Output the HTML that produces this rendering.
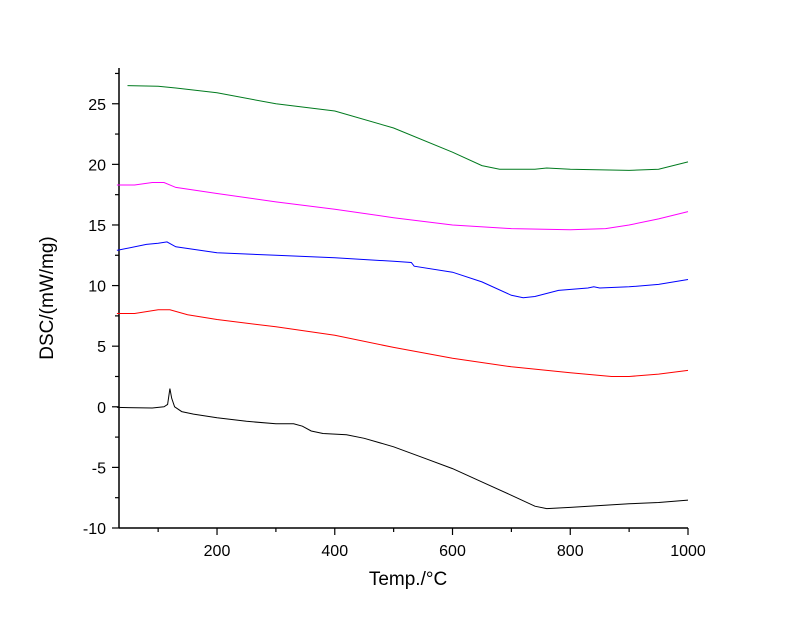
<!DOCTYPE html>
<html><head><meta charset="utf-8"><style>
body{margin:0;background:#fff}
svg{display:block;font-family:"Liberation Sans",Arial,sans-serif}
</style></head><body>
<svg id="chart" width="800" height="617">
<g id="axes"></g>
<g id="series"></g>
<text x="408" y="585" font-size="19" text-anchor="middle">Temp./°C</text>
<text x="0" y="0" font-size="19" text-anchor="middle" transform="translate(53,298) rotate(-90)">DSC/(mW/mg)</text>
</svg>
<script>
const xTicks=[200,400,600,800,1000];
const yTicks=[-10,-5,0,5,10,15,20,25];
const greenT=[48,100,130,200,300,400,500,600,650,680,740,760,800,900,950,1000];
const greenV=[26.5,26.45,26.3,25.9,25.0,24.4,23.0,21.0,19.9,19.6,19.6,19.7,19.6,19.5,19.6,20.2];
const magentaT=[30,60,90,110,130,200,300,400,500,600,700,800,860,900,950,1000];
const magentaV=[18.3,18.3,18.5,18.5,18.1,17.6,16.9,16.3,15.6,15.0,14.7,14.6,14.7,15.0,15.5,16.1];
const blueT=[30,80,100,115,130,200,300,400,500,530,535,600,650,700,720,740,780,830,840,850,900,950,1000];
const blueV=[12.9,13.4,13.5,13.6,13.2,12.7,12.5,12.3,12.0,11.9,11.6,11.1,10.3,9.2,9.0,9.1,9.6,9.8,9.9,9.8,9.9,10.1,10.5];
const redT=[30,60,100,120,150,200,300,400,500,600,700,800,870,900,950,1000];
const redV=[7.7,7.7,8.0,8.0,7.6,7.2,6.6,5.9,4.9,4.0,3.3,2.8,2.5,2.5,2.7,3.0];
const blackT=[30,90,110,116,120,123,128,140,160,200,250,300,330,345,360,380,420,450,500,550,600,650,700,740,760,800,900,950,1000];
const blackV=[-0.05,-0.1,0,0.2,1.5,0.7,0,-0.4,-0.6,-0.9,-1.2,-1.4,-1.4,-1.6,-2.0,-2.2,-2.3,-2.6,-3.3,-4.2,-5.1,-6.2,-7.3,-8.2,-8.4,-8.3,-8.0,-7.9,-7.7];
const X0=119,X1=688,Y0=528,Y1=68,xmin=33.5,xmax=1000,ymin=-10,ymax=27.95;
const sx=v=>X0+(v-xmin)/(xmax-xmin)*(X1-X0);
const sy=v=>Y0-(v-ymin)/(ymax-ymin)*(Y0-Y1);
const NS="http://www.w3.org/2000/svg";
const ax=document.getElementById('axes');
function mk(t,a,p){const e=document.createElementNS(NS,t);for(const k in a)e.setAttribute(k,a[k]);p.appendChild(e);return e;}
let l=mk('line',{x1:X0,y1:Y0,x2:X1,y2:Y0,stroke:'#000','stroke-width':1.5},ax);


l=mk('line',{x1:X0,y1:Y0,x2:X0,y2:Y1,stroke:'#000','stroke-width':1.5},ax);


for(let v=100;v<=1000;v+=100){const major=v%200===0;mk('line',{x1:sx(v),y1:Y0,x2:sx(v),y2:Y0+(major?7:4),stroke:'#000','stroke-width':1.2},ax);}
xTicks.forEach(v=>{const t=mk('text',{x:sx(v),y:556,'font-size':16,'text-anchor':'middle'},ax);t.textContent=v;

});
for(let v=-10;v<=27.5;v+=2.5){const major=v%5===0;mk('line',{x1:X0,y1:sy(v),x2:X0-(major?7:4),y2:sy(v),stroke:'#000','stroke-width':1.2},ax);}
yTicks.forEach(v=>{const t=mk('text',{x:106,y:sy(v)+6,'font-size':16,'text-anchor':'end'},ax);t.textContent=v;

});
const sg=document.getElementById('series');
[[greenT,greenV,'#007a1e','green-curve'],[magentaT,magentaV,'#ff00ff','magenta-curve'],[blueT,blueV,'#0000ff','blue-curve'],[redT,redV,'#ff0000','red-curve'],[blackT,blackV,'#000','black-curve']].forEach(([T,V,c,n])=>{
const d=T.map((t,i)=>(i?'L':'M')+sx(t).toFixed(1)+','+sy(V[i]).toFixed(1)).join('');
const p=mk('path',{d:d,fill:'none',stroke:c,'stroke-width':1},sg);


});
</script>
</body></html>
